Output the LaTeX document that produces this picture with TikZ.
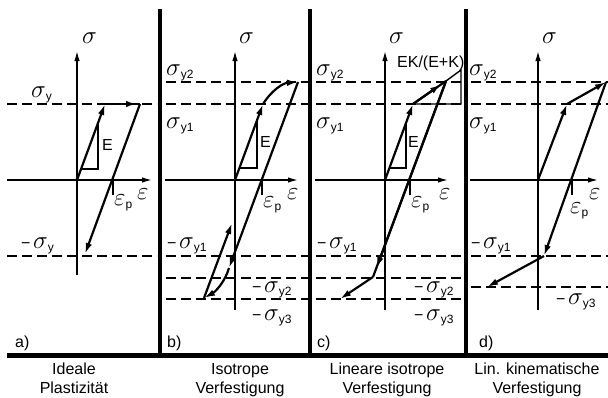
\documentclass[tikz,border=0pt]{standalone}
\usepackage{fontspec}
\setmainfont{Liberation Sans}
\usetikzlibrary{arrows.meta}
\newcommand{\Sig}{{\fontsize{23}{23}\selectfont$\sigma$}}
\newcommand{\Eps}{{\fontsize{23}{23}\selectfont$\varepsilon$}}
\newcommand{\Sub}[1]{\raisebox{-3pt}{\fontsize{12}{12}\selectfont #1}}
\newcommand{\Neg}{−\,}

\begin{document}
\begin{tikzpicture}[x=1pt, y=-1pt,
  axis/.style={line width=1.4pt, -{Latex[length=10pt,width=5.5pt]}},
  lim/.style={line width=1.5pt, dash pattern=on 10pt off 5pt},
  load/.style={line width=2.2pt},
  loadarr/.style={load, -{Latex[length=11pt,width=6.5pt]}},
  tri/.style={line width=1.4pt},
  sep/.style={line width=4.5pt},
  lbl/.style={inner sep=0pt, font=\fontsize{16}{19}\selectfont}
]
  \useasboundingbox (0,0) rectangle (608,397);

  % Frame: separators and base line
  \draw[sep] (160,9) -- (160,355);
  \draw[sep] (310,9) -- (310,355);
  \draw[sep] (466,9) -- (466,355);
  \draw[sep] (7,355.5) -- (608,355.5);

  % ---------- a) ideal plasticity ----------
  \foreach \y in {104,256} {
    \draw[lim] (7,\y) -- (157,\y);
  }
  \draw[axis] (7,180) -- (152,180);
  \draw[axis] (77,275) -- (77,51);
  \coordinate (a0) at (77,180);
  \coordinate (a1) at (105,104);
  \coordinate (a2) at (137,104);
  \coordinate (a3) at (140,104);
  \coordinate (a4) at (85,254);
  \draw[tri] (81,169) -- (98,169) -- (98,123);
  \draw[loadarr] (a0) -- (a1);
  \draw[loadarr] (a1) -- (a2);
  \draw[load] (a2) -- (a3);
  \draw[loadarr] (a3) -- (a4);
  \draw[tri] (113,180) -- (113,195);
  \node[lbl, anchor=base west] (siga) at (82,43) {\Sig};
  \node[lbl, anchor=base west] (epsa) at (137,199) {\Eps};
  \node[lbl, anchor=base west] (epspa) at (114,205) {\Eps\Sub{p}};
  \node[lbl, anchor=base west] (Ea) at (102,150) {E};
  \node[lbl, anchor=base west] (sya) at (31,97) {\Sig\Sub{y}};
  \node[lbl, anchor=base west] (msya) at (21,248) {\Neg\Sig\Sub{y}};
  \node[lbl, anchor=base west] (taga) at (15,347) {a)};
  \node[lbl, anchor=north, align=center] (capa) at (74,363) {Ideale\\Plastizität};

  % ---------- b) isotropic hardening ----------
  \foreach \y in {82,104,256,278,299} {
    \draw[lim] (166,\y) -- (308,\y);
  }
  \draw[axis] (165,180) -- (298,180);
  \draw[axis] (235,310) -- (235,51);
  \coordinate (b0) at (235,180);
  \coordinate (b1) at (263,104);
  \coordinate (b2) at (298,82);
  \coordinate (b3) at (229,268);
  \coordinate (b4) at (204,298);
  \coordinate (b5) at (232,223);
  \draw[tri] (239.4,168) -- (257,168) -- (257,120);
  \draw[loadarr] (b0) -- (b1);
  \draw[loadarr] (b1) .. controls (272,90) and (283,83) .. (b2);
  \draw[loadarr] (b2) -- (b3);
  \draw[loadarr] (b3) .. controls (225,282) and (215,292) .. (b4);
  \draw[loadarr] (b4) -- (b5);
  \draw[tri] (262,180) -- (262,195);
  \node[lbl, anchor=base west] (sigb) at (239,43) {\Sig};
  \node[lbl, anchor=base west] (epsb) at (287,199) {\Eps};
  \node[lbl, anchor=base west] (epspb) at (263,207) {\Eps\Sub{p}};
  \node[lbl, anchor=base west] (Eb) at (260,147) {E};
  \node[lbl, anchor=base west] (sy2b) at (166,75) {\Sig\Sub{y2}};
  \node[lbl, anchor=base west] (sy1b) at (166,128) {\Sig\Sub{y1}};
  \node[lbl, anchor=base west] (msy1b) at (167,248) {\Neg\Sig\Sub{y1}};
  \node[lbl, anchor=base west] (msy2b) at (252,292) {\Neg\Sig\Sub{y2}};
  \node[lbl, anchor=base west] (msy3b) at (252,320) {\Neg\Sig\Sub{y3}};
  \node[lbl, anchor=base west] (tagb) at (167,347) {b)};
  \node[lbl, anchor=north, align=center] (capb) at (240,363) {Isotrope\\Verfestigung};

  % ---------- c) linear isotropic hardening ----------
  \foreach \y in {82,104,256,278,299} {
    \draw[lim] (316,\y) -- (463,\y);
  }
  \draw[axis] (315,180) -- (448,180);
  \draw[axis] (385,310) -- (385,51);
  \coordinate (c0) at (385,180);
  \coordinate (c1) at (413,104);
  \coordinate (c2) at (446,81);
  \coordinate (c3) at (461,70);
  \coordinate (c4) at (373,277);
  \coordinate (c5) at (340,299);
  \draw[tri] (389.4,168) -- (406,168) -- (406,123);
  \draw[tri] (c1) -- (461,104) -- (c3) -- (c2);
  \draw[loadarr] (c0) -- (c1);
  \draw[load] (c1) -- (c2);
  \draw[loadarr] (c1) -- (441,84.4);
  \draw[load] (c2) -- (c4);
  \draw[loadarr] (c2) -- (376.5,268);
  \draw[loadarr] (c4) -- (c5);
  \draw[tri] (410,180) -- (410,195);
  \node[lbl, anchor=base west] (sigc) at (389,43) {\Sig};
  \node[lbl, anchor=base west] (epsc) at (439,199) {\Eps};
  \node[lbl, anchor=base west] (epspc) at (411,207) {\Eps\Sub{p}};
  \node[lbl, anchor=base west] (Ec) at (408,147) {E};
  \node[lbl, anchor=base west] (slope) at (397,67) {EK/(E+K)};
  \node[lbl, anchor=base west] (sy2c) at (316,75) {\Sig\Sub{y2}};
  \node[lbl, anchor=base west] (sy1c) at (316,128) {\Sig\Sub{y1}};
  \node[lbl, anchor=base west] (msy1c) at (317,248) {\Neg\Sig\Sub{y1}};
  \node[lbl, anchor=base west] (msy2c) at (414,292) {\Neg\Sig\Sub{y2}};
  \node[lbl, anchor=base west] (msy3c) at (414,320) {\Neg\Sig\Sub{y3}};
  \node[lbl, anchor=base west] (tagc) at (317,347) {c)};
  \node[lbl, anchor=north, align=center] (capc) at (387,363) {Lineare isotrope\\Verfestigung};

  % ---------- d) linear kinematic hardening ----------
  \foreach \y in {82,104,256,287} {
    \draw[lim] (471,\y) -- (608,\y);
  }
  \draw[axis] (470,180) -- (598,180);
  \draw[axis] (538,310) -- (538,51);
  \coordinate (d0) at (538,180);
  \coordinate (d1) at (567,104);
  \coordinate (d2) at (606,82);
  \coordinate (d3) at (544,256);
  \coordinate (d4) at (487,287);
  \draw[loadarr] (d0) -- (d1);
  \draw[loadarr] (d1) -- (d2);
  \draw[loadarr] (d2) -- (d3);
  \draw[loadarr] (d3) -- (d4);
  \draw[tri] (572,180) -- (572,195);
  \node[lbl, anchor=base west] (sigd) at (542,43) {\Sig};
  \node[lbl, anchor=base west] (epsd) at (589,199) {\Eps};
  \node[lbl, anchor=base west] (epspd) at (570,213) {\Eps\Sub{p}};
  \node[lbl, anchor=base west] (sy2d) at (469,75) {\Sig\Sub{y2}};
  \node[lbl, anchor=base west] (sy1d) at (469,128) {\Sig\Sub{y1}};
  \node[lbl, anchor=base west] (msy1d) at (471,248) {\Neg\Sig\Sub{y1}};
  \node[lbl, anchor=base west] (msy3d) at (556,304) {\Neg\Sig\Sub{y3}};
  \node[lbl, anchor=base west] (tagd) at (479,347) {d)};
  \node[lbl, anchor=north, align=center] (capd) at (537,363) {Lin. kinematische\\Verfestigung};
\end{tikzpicture}
\end{document}
